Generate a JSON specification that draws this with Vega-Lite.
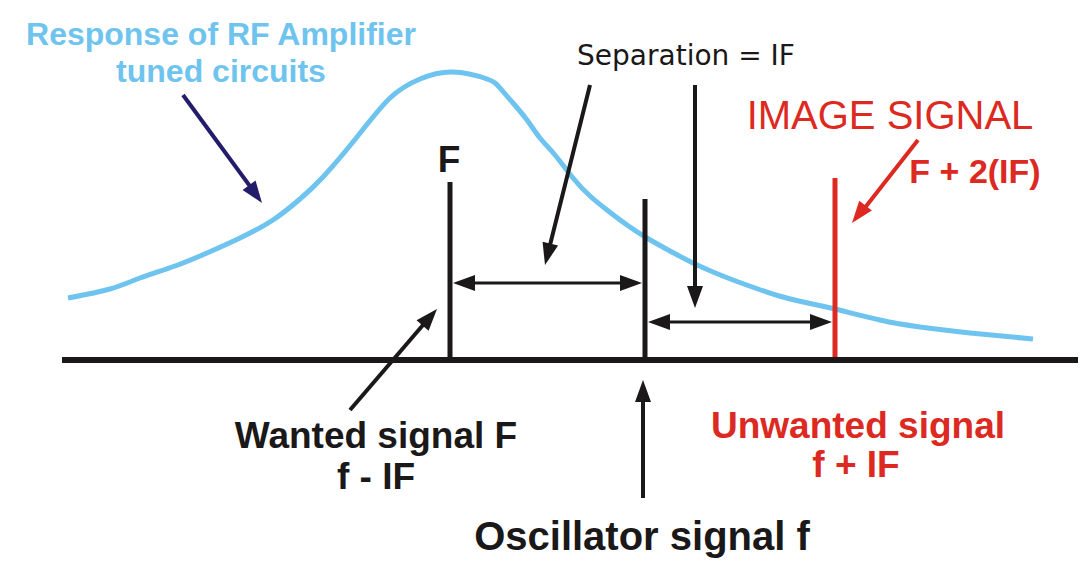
{
  "$schema": "https://vega.github.io/schema/vega-lite/v6.json",
  "width": 1082,
  "height": 564,
  "padding": 0,
  "autosize": {"type": "fit", "contains": "padding"},
  "background": "white",
  "config": {"view": {"stroke": null}},
  "resolve": {"scale": {"color": "independent"}},
  "datasets": {
    "response": [
      {"x": 68, "y": 298}, {"x": 110, "y": 289}, {"x": 140, "y": 278}, {"x": 175, "y": 266},
      {"x": 207, "y": 253}, {"x": 240, "y": 238}, {"x": 273, "y": 220}, {"x": 300, "y": 199},
      {"x": 323, "y": 177}, {"x": 357, "y": 137}, {"x": 390, "y": 98}, {"x": 420, "y": 79},
      {"x": 452, "y": 72}, {"x": 487, "y": 79}, {"x": 500, "y": 88},
      {"x": 513, "y": 103}, {"x": 527, "y": 120}, {"x": 540, "y": 138}, {"x": 555, "y": 155},
      {"x": 573, "y": 178}, {"x": 590, "y": 196}, {"x": 607, "y": 210}, {"x": 627, "y": 225},
      {"x": 647, "y": 238}, {"x": 670, "y": 251}, {"x": 693, "y": 263}, {"x": 713, "y": 272},
      {"x": 733, "y": 280}, {"x": 758, "y": 289}, {"x": 783, "y": 297}, {"x": 808, "y": 303},
      {"x": 835, "y": 309}, {"x": 880, "y": 320}, {"x": 920, "y": 327}, {"x": 970, "y": 333},
      {"x": 1033, "y": 339}
    ],
    "signals": [
      {"signal": "wanted", "x": 450, "y": 182, "x2": 450, "y2": 360},
      {"signal": "oscillator", "x": 645, "y": 199, "x2": 645, "y2": 360},
      {"signal": "image", "x": 835, "y": 178, "x2": 835, "y2": 357}
    ],
    "dimensions": [
      {"x": 463, "y": 283, "x2": 632, "y2": 283},
      {"x": 658, "y": 322, "x2": 822, "y2": 322}
    ],
    "pointers": [
      {"kind": "response", "x": 183, "y": 95, "x2": 255, "y2": 193},
      {"kind": "separation", "x": 590, "y": 85, "x2": 548, "y2": 253},
      {"kind": "separation", "x": 695, "y": 85, "x2": 695, "y2": 296},
      {"kind": "image", "x": 918, "y": 140, "x2": 860, "y2": 214},
      {"kind": "wanted", "x": 350, "y": 410, "x2": 429, "y2": 318},
      {"kind": "oscillator", "x": 643, "y": 498, "x2": 643, "y2": 392}
    ],
    "heads": [
      {"kind": "response", "x": 262, "y": 203, "bearing": 144},
      {"kind": "separation", "x": 545, "y": 265, "bearing": 194},
      {"kind": "separation", "x": 695, "y": 308, "bearing": 180},
      {"kind": "image", "x": 852, "y": 223, "bearing": 218},
      {"kind": "wanted", "x": 437, "y": 309, "bearing": 41},
      {"kind": "oscillator", "x": 643, "y": 380, "bearing": 0},
      {"kind": "dimension", "x": 453, "y": 283, "bearing": 270},
      {"kind": "dimension", "x": 642, "y": 283, "bearing": 90},
      {"kind": "dimension", "x": 648, "y": 322, "bearing": 270},
      {"kind": "dimension", "x": 832, "y": 322, "bearing": 90}
    ],
    "axisline": [{"x": 62, "y": 360, "x2": 1078, "y2": 360}]
  },
  "encoding": {
    "x": {"field": "x", "type": "quantitative", "axis": null, "scale": {"domain": [0, 1082], "nice": false, "zero": false}},
    "y": {"field": "y", "type": "quantitative", "axis": null, "scale": {"domain": [0, 564], "reverse": true, "nice": false, "zero": false}}
  },
  "layer": [
    {
      "data": {"name": "response"},
      "mark": {"type": "line", "color": "#6ec4ee", "strokeWidth": 5, "interpolate": "natural"}
    },
    {
      "data": {"name": "axisline"},
      "mark": {"type": "rule", "color": "#1a1818", "strokeWidth": 6},
      "encoding": {"x2": {"field": "x2"}, "y2": {"field": "y2"}}
    },
    {
      "data": {"name": "signals"},
      "mark": {"type": "rule", "strokeWidth": 5},
      "encoding": {
        "x2": {"field": "x2"}, "y2": {"field": "y2"},
        "color": {"field": "signal", "type": "nominal", "legend": null,
          "scale": {"domain": ["wanted", "oscillator", "image"], "range": ["#1a1818", "#1a1818", "#dc2a22"]}}
      }
    },
    {
      "data": {"name": "dimensions"},
      "mark": {"type": "rule", "color": "#1a1818", "strokeWidth": 3},
      "encoding": {"x2": {"field": "x2"}, "y2": {"field": "y2"}}
    },
    {
      "data": {"name": "pointers"},
      "mark": {"type": "rule", "strokeWidth": 4},
      "encoding": {
        "x2": {"field": "x2"}, "y2": {"field": "y2"},
        "color": {"field": "kind", "type": "nominal", "legend": null,
          "scale": {"domain": ["response", "separation", "image", "wanted", "oscillator", "dimension"],
                    "range": ["#221c6b", "#1a1818", "#dc2a22", "#1a1818", "#1a1818", "#1a1818"]}}
      }
    },
    {
      "data": {"name": "heads"},
      "mark": {"type": "point", "shape": "M0,0L0.8,2.2L-0.8,2.2Z", "filled": true, "opacity": 1, "size": 400, "strokeWidth": 0},
      "encoding": {
        "angle": {"field": "bearing", "type": "quantitative", "scale": null},
        "color": {"field": "kind", "type": "nominal", "legend": null,
          "scale": {"domain": ["response", "separation", "image", "wanted", "oscillator", "dimension"],
                    "range": ["#221c6b", "#1a1818", "#dc2a22", "#1a1818", "#1a1818", "#1a1818"]}}
      }
    },
    {
      "data": {"values": [
        {"label": "Response of RF Amplifier", "x": 221, "y": 45},
        {"label": "tuned circuits", "x": 221, "y": 82}
      ]},
      "mark": {"type": "text", "font": "Liberation Sans", "fontWeight": "bold", "fontSize": 32, "color": "#6ec4ee", "align": "center", "baseline": "alphabetic"},
      "encoding": {"text": {"field": "label"}}
    },
    {
      "data": {"values": [{"label": "Separation = IF", "x": 686, "y": 65}]},
      "mark": {"type": "text", "font": "DejaVu Sans", "fontSize": 28, "color": "#1a1818", "align": "center", "baseline": "alphabetic"},
      "encoding": {"text": {"field": "label"}}
    },
    {
      "data": {"values": [{"label": "IMAGE SIGNAL", "x": 890, "y": 129}]},
      "mark": {"type": "text", "font": "Liberation Sans", "fontSize": 40, "color": "#dc2a22", "align": "center", "baseline": "alphabetic"},
      "encoding": {"text": {"field": "label"}}
    },
    {
      "data": {"values": [
        {"label": "F + 2(IF)", "x": 975, "y": 183}
      ]},
      "mark": {"type": "text", "font": "Liberation Sans", "fontWeight": "bold", "fontSize": 34, "color": "#dc2a22", "align": "center", "baseline": "alphabetic"},
      "encoding": {"text": {"field": "label"}}
    },
    {
      "data": {"values": [
        {"label": "Unwanted signal", "x": 858, "y": 438},
        {"label": "f  + IF", "x": 856, "y": 477}
      ]},
      "mark": {"type": "text", "font": "Liberation Sans", "fontWeight": "bold", "fontSize": 37, "color": "#dc2a22", "align": "center", "baseline": "alphabetic"},
      "encoding": {"text": {"field": "label"}}
    },
    {
      "data": {"values": [
        {"label": "F", "x": 449, "y": 172},
        {"label": "Wanted signal F", "x": 376, "y": 448},
        {"label": "f - IF", "x": 376, "y": 489}
      ]},
      "mark": {"type": "text", "font": "Liberation Sans", "fontWeight": "bold", "fontSize": 37, "color": "#1a1818", "align": "center", "baseline": "alphabetic"},
      "encoding": {"text": {"field": "label"}}
    },
    {
      "data": {"values": [
        {"label": "Oscillator signal  f", "x": 642, "y": 550}
      ]},
      "mark": {"type": "text", "font": "Liberation Sans", "fontWeight": "bold", "fontSize": 40, "color": "#1a1818", "align": "center", "baseline": "alphabetic"},
      "encoding": {"text": {"field": "label"}}
    }
  ]
}
